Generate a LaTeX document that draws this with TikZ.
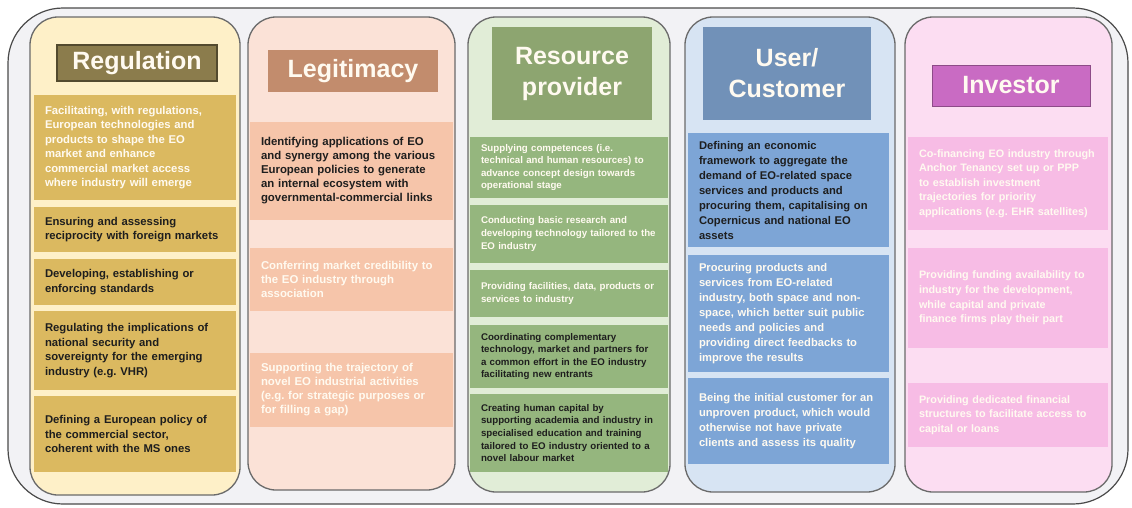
\documentclass[tikz,border=0pt]{standalone}
\usepackage{fontspec}
\setmainfont{Liberation Sans}
\definecolor{outerfill}{HTML}{F2F2F5}
\definecolor{outerdraw}{HTML}{4A4A4A}
\definecolor{colborder}{HTML}{6A6A6A}
\definecolor{regcol}{HTML}{FEF0C8}
\definecolor{reghdr}{HTML}{8B7C4C}
\definecolor{regbox}{HTML}{DBB960}
\definecolor{legcol}{HTML}{FBE2D7}
\definecolor{leghdr}{HTML}{C28C6D}
\definecolor{legbox}{HTML}{F6C5AA}
\definecolor{rescol}{HTML}{E1EDD7}
\definecolor{reshdr}{HTML}{8DA570}
\definecolor{resbox}{HTML}{95B67E}
\definecolor{usrcol}{HTML}{D7E4F3}
\definecolor{usrhdr}{HTML}{7191B8}
\definecolor{usrbox}{HTML}{7DA5D6}
\definecolor{invcol}{HTML}{FCDDF2}
\definecolor{invhdr}{HTML}{C96BC3}
\definecolor{invbox}{HTML}{F7BCE5}
\definecolor{lighttext}{HTML}{FFFAF0}
\definecolor{darktext}{HTML}{1E1E1E}
\tikzset{
  column/.style={draw=colborder, line width=1.3pt, rounded corners=28pt, inner sep=0pt},
  hdr/.style={inner sep=0pt, align=center, text=lighttext, font=\bfseries\fontsize{25}{31}\selectfont},
  box/.style={inner xsep=11pt, inner ysep=0pt, align=left, anchor=center},
  regtxt/.style={box, fill=regbox, text width=180pt, font=\bfseries\fontsize{11.3}{14.5}\selectfont},
  legtxt/.style={box, fill=legbox, text width=181pt, font=\bfseries\fontsize{11.4}{14}\selectfont},
  restxt/.style={box, fill=resbox, text width=176pt, font=\bfseries\fontsize{9.7}{12.6}\selectfont},
  usrtxt/.style={box, fill=usrbox, text width=179pt, font=\bfseries\fontsize{11.2}{15}\selectfont},
  invtxt/.style={box, fill=invbox, text width=178pt, font=\bfseries\fontsize{10.8}{14.6}\selectfont},
  light/.style={text=lighttext},
  dark/.style={text=darktext}
}
\begin{document}
\frenchspacing
\begin{tikzpicture}[x=1pt,y=-1pt]
\useasboundingbox (0,0) rectangle (1132,507);
% outer frame
\node[draw=outerdraw, fill=outerfill, line width=1.2pt, rounded corners=55pt,
      minimum width=1120pt, minimum height=496pt, inner sep=0pt] (frame) at (568,256) {};

% columns
\node[column, fill=regcol, minimum width=210pt, minimum height=478pt] (regcol) at (135,256) {};
\node[column, fill=legcol, minimum width=207pt, minimum height=473pt] (legcol) at (351.5,253.5) {};
\node[column, fill=rescol, minimum width=202pt, minimum height=475pt] (rescol) at (569,254.5) {};
\node[column, fill=usrcol, minimum width=210pt, minimum height=475pt] (usrcol) at (790,254.5) {};
\node[column, fill=invcol, minimum width=207pt, minimum height=475pt] (invcol) at (1008.5,254.5) {};

% headers
\node[hdr, fill=reghdr, draw=reghdr!60!black, line width=1.5pt, minimum width=160pt, minimum height=36pt] (reghead) at (137,63) {Regulation};
\node[hdr, fill=leghdr, minimum width=170pt, minimum height=42pt] (leghead) at (353,71) {Legitimacy};
\node[hdr, fill=reshdr, minimum width=160pt, minimum height=93pt] (reshead) at (572,73.5) {Resource\\provider};
\node[hdr, fill=usrhdr, minimum width=168pt, minimum height=93pt] (usrhead) at (787,73.5) {User/\\Customer};
\node[hdr, fill=invhdr, draw=invhdr!70!black, line width=1pt, minimum width=158pt, minimum height=41pt] (invhead) at (1011,85.5) {Investor};

% Regulation boxes
\node[regtxt, light, minimum height=105pt] (reg1) at (135,147.5) {Facilitating, with regulations,\\European technologies and\\products to shape the EO\\market and enhance\\commercial market access\\where industry will emerge};
\node[regtxt, dark, minimum height=45pt] (reg2) at (135,229.5) {Ensuring and assessing\\reciprocity with foreign markets};
\node[regtxt, dark, minimum height=46pt] (reg3) at (135,282) {Developing, establishing or\\enforcing standards};
\node[regtxt, dark, minimum height=79pt] (reg4) at (135,350.5) {Regulating the implications of\\national security and\\sovereignty for the emerging\\industry (e.g. VHR)};
\node[regtxt, dark, minimum height=76pt] (reg5) at (135,434) {Defining a European policy of\\the commercial sector,\\coherent with the MS ones};

% Legitimacy boxes
\node[legtxt, dark, minimum height=98pt] (leg1) at (351.5,171) {Identifying applications of EO\\and synergy among the various\\European policies to generate\\an internal ecosystem with\\governmental-commercial links};
\node[legtxt, light, minimum height=63pt] (leg2) at (351.5,279.5) {Conferring market credibility to\\the EO industry through\\association};
\node[legtxt, light, minimum height=74pt] (leg3) at (351.5,390) {Supporting the trajectory of\\novel EO industrial activities\\(e.g. for strategic purposes or\\for filling a gap)};

% Resource provider boxes
\node[restxt, light, minimum height=61pt] (res1) at (569,167.5) {Supplying competences (i.e.\\technical and human resources) to\\advance concept design towards\\operational stage};
\node[restxt, light, minimum height=58pt] (res2) at (569,234) {Conducting basic research and\\developing technology tailored to the\\EO industry};
\node[restxt, light, minimum height=47pt] (res3) at (569,293.5) {Providing facilities, data, products or\\services to industry};
\node[restxt, dark, minimum height=63pt] (res4) at (569,356.5) {Coordinating complementary\\technology, market and partners for\\a common effort in the EO industry\\facilitating new entrants};
\node[restxt, dark, minimum height=78pt] (res5) at (569,433) {Creating human capital by\\supporting academia and industry in\\specialised education and training\\tailored to EO industry oriented to a\\novel labour market};

% User/Customer boxes
\node[usrtxt, dark, minimum height=114pt] (usr1) at (788.5,190) {Defining an economic\\framework to aggregate the\\demand of EO-related space\\services and products and\\procuring them, capitalising on\\Copernicus and national EO\\assets};
\node[usrtxt, light, minimum height=117pt] (usr2) at (788.5,313.5) {Procuring products and\\services from EO-related\\industry, both space and non-\\space, which better suit public\\needs and policies and\\providing direct feedbacks to\\improve the results};
\node[usrtxt, light, minimum height=86pt] (usr3) at (788.5,421) {Being the initial customer for an\\unproven product, which would\\otherwise not have private\\clients and assess its quality};

% Investor boxes
\node[invtxt, light, minimum height=93pt] (inv1) at (1008,183.5) {Co-financing EO industry through\\Anchor Tenancy set up or PPP\\to establish investment\\trajectories for priority\\applications (e.g. EHR satellites)};
\node[invtxt, light, minimum height=100pt] (inv2) at (1008,298) {Providing funding availability to\\industry for the development,\\while capital and private\\finance firms play their part};
\node[invtxt, light, minimum height=64pt] (inv3) at (1008,415) {Providing dedicated financial\\structures to facilitate access to\\capital or loans};
\end{tikzpicture}
\end{document}
